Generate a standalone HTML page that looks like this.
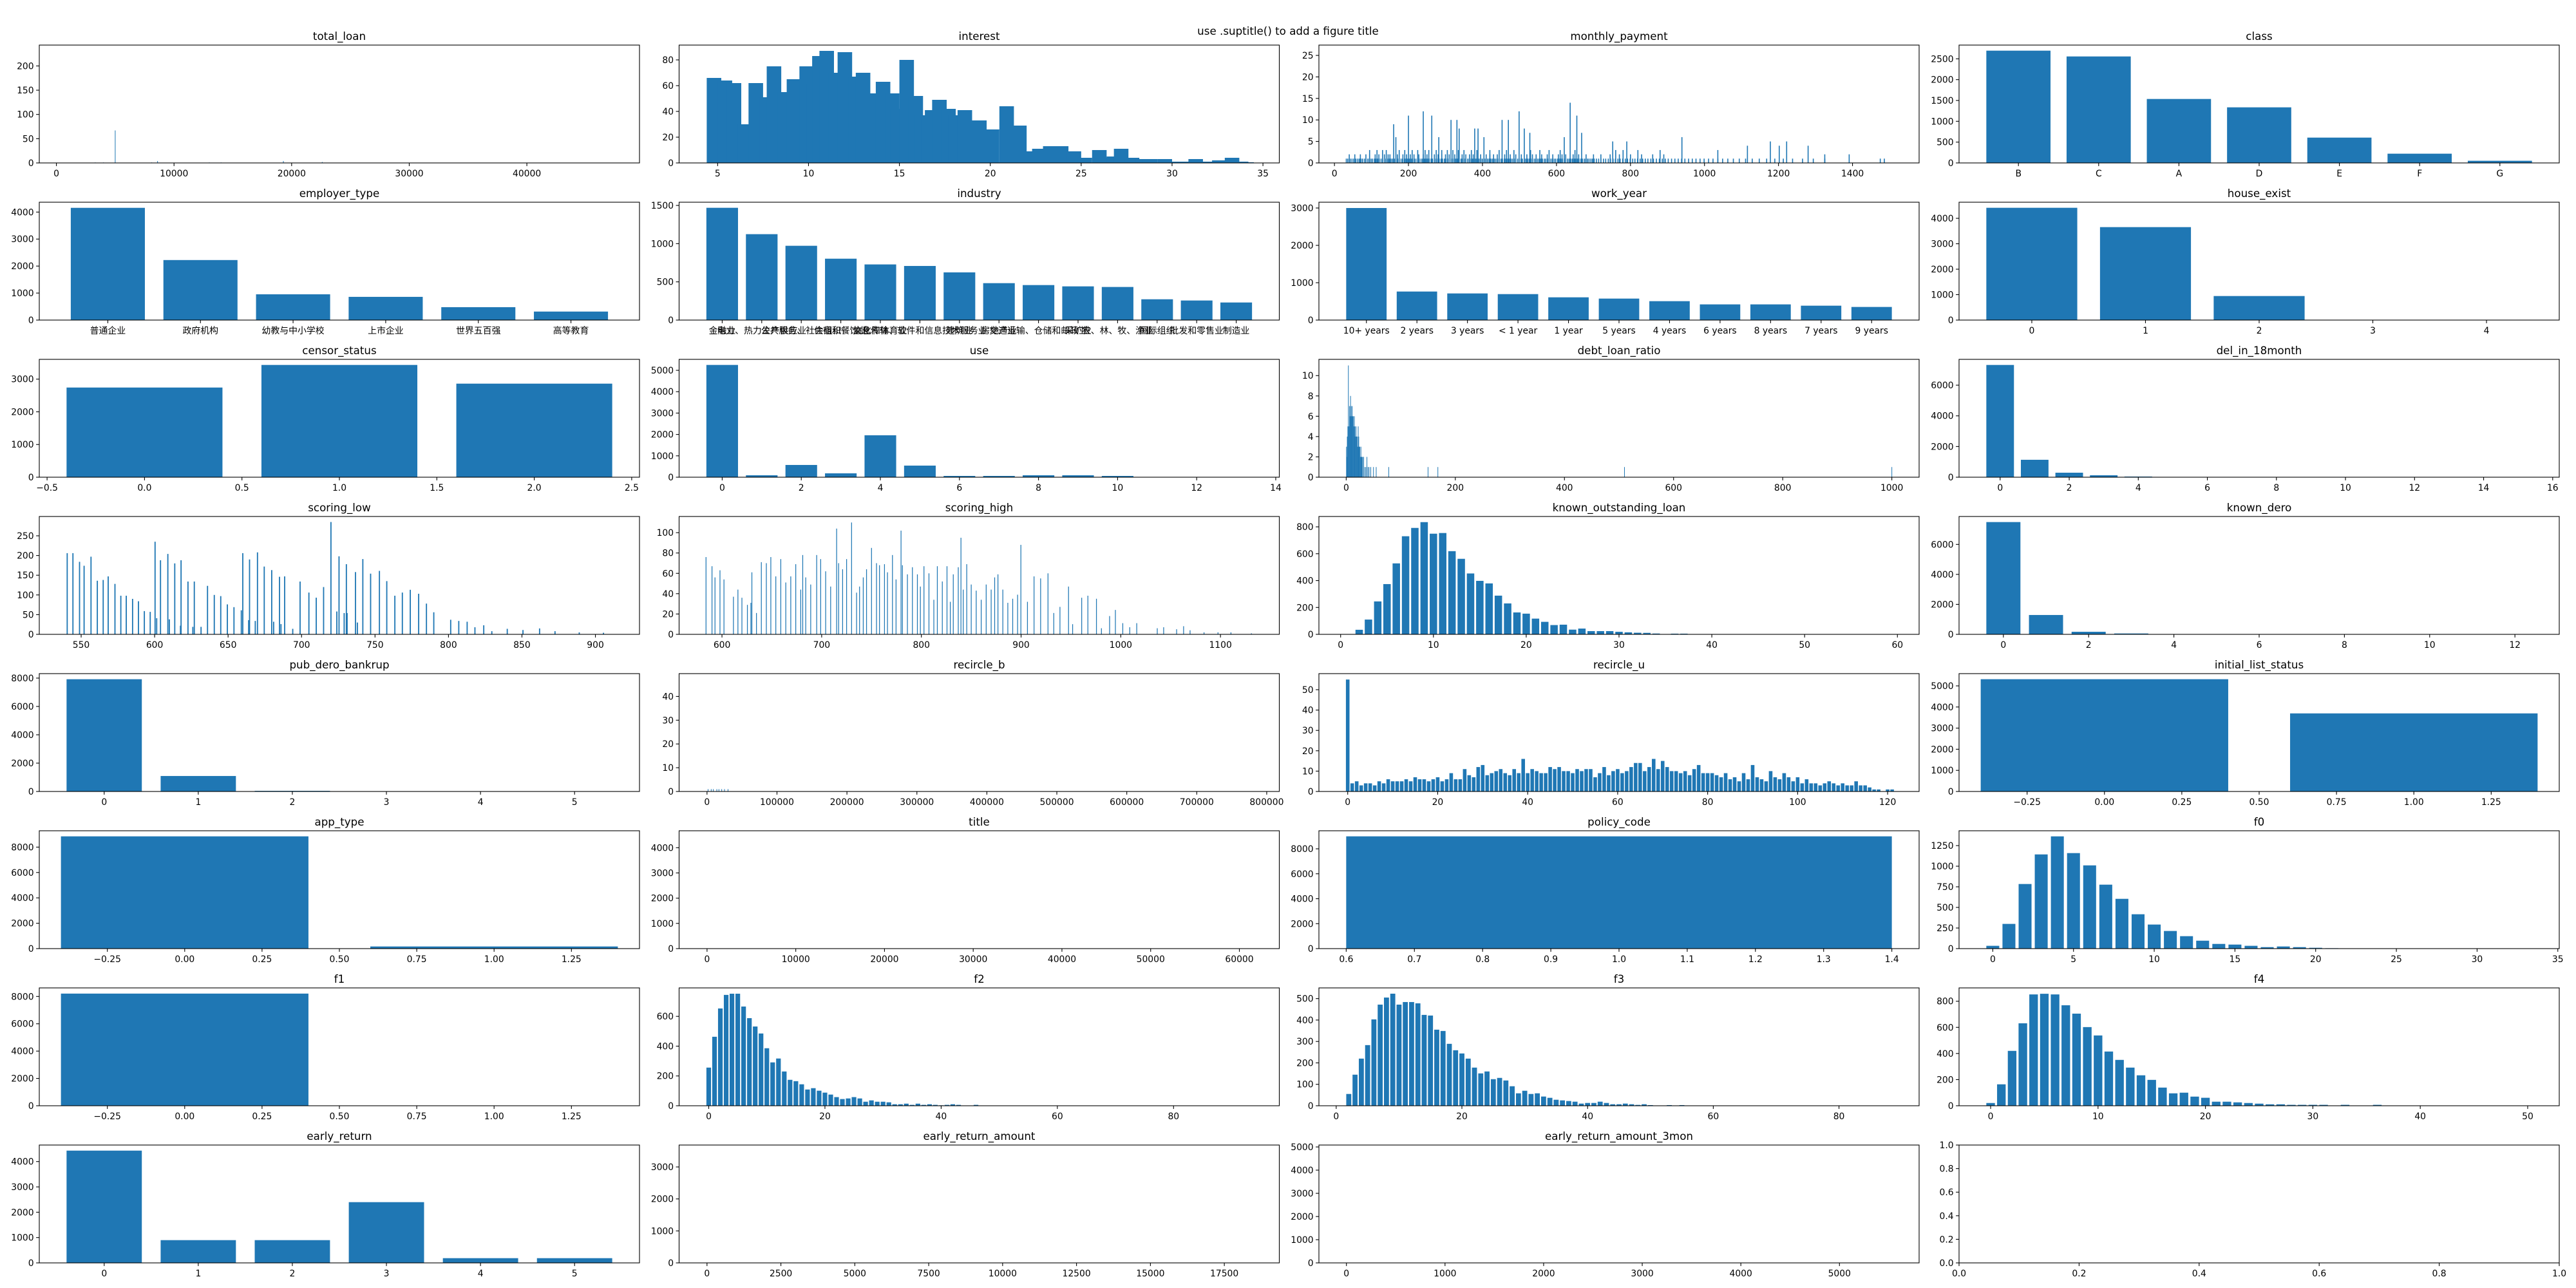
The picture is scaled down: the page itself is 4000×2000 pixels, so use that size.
<!DOCTYPE html>
<html><head><meta charset="utf-8"><title>feature distributions</title>
<style>
html,body{margin:0;padding:0;background:#fff;}
svg{display:block;font-family:"DejaVu Sans","Liberation Sans","Noto Sans CJK SC",sans-serif;}
</style></head>
<body>
<svg id="fig" width="4000" height="2000" viewBox="0 0 4000 2000" xmlns="http://www.w3.org/2000/svg">
<rect x="0" y="0" width="4000" height="2000" fill="#fff"/>
<text x="2000" y="54" text-anchor="middle" font-size="16.7">use .suptitle() to add a figure title</text>
</svg>
<script>
// ---------------- data arrays ----------------
const totalLoanX = [3300, 4000, 5000, 8100, 8600, 13000, 14000, 19300, 22600];
const totalLoanH = [1, 1, 67, 1, 4, 1, 1, 4, 2];

const interestX = [4.8,5.4,5.9,6.5,7.1,7.7,8.1,8.7,9.2,9.9,10.3,10.6,11.0,11.5,12.0,12.6,13.0,13.6,14.1,14.6,14.9,15.4,15.9,16.2,16.6,16.8,17.2,17.7,18.1,18.6,19.4,20.1,20.9,21.3,21.6,22.1,22.7,23.3,23.9,24.6,25.2,26.0,26.5,26.8,27.2,27.8,28.4,28.8,29.6,30.1,30.7,31.3,32.0,32.6,33.3,33.8,34.1];
const interestH = [66,64,62,30,62,51,75,55,65,75,61,83,87,70,86,67,70,54,63,54,42,80,52,37,36,41,49,42,37,41,33,26,44,15,29,9,11,13,13,9,4,10,4,5,11,4,3,3,3,1,1,3,1,2,4,1,0.5];

const monthlyLevels = [1, 2, 3];
const monthlyLevel1X = [32,36,41,45,50,54,58,63,67,72,76,81,85,90,94,99,103,108,112,117,121,126,130,135,139,144,148,153,157,162,166,171,175,180,184,189,193,198,202,207,211,216,220,225,229,234,238,243,247,252,256,261,265,270,274,279,283,288,292,297,301,306,310,315,319,324,328,333,337,342,346,351,355,360,364,369,373,378,382,387,391,396,400,405,409,414,418,423,427,432,436,441,445,450,454,459,463,468,472,477,481,486,490,495,499,504,508,513,517,522,526,531,535,540,544,549,553,558,562,567,571,576,580,585,589,594,598,603,607,612,616,621,625,630,634,639,643,648,652,657,661,666,670,675,679,684,688,693,697,702,708,714,720,727,733,740,746,753,759,766,772,779,786,792,799,806,812,819,826,833,840,847,855,862,870,878,886,894,902,911,920,929,938,947,957,967,977,988,999,1011,1023,1036,1049,1063,1078,1094,1111,1129,1148,1168,1190,1213,1238,1265,1294,1325];
const monthlyLevel2X = [40,55,70,85,95,110,120,135,145,150,170,185,195,205,215,228,240,250,270,280,290,300,310,325,345,355,365,375,395,410,420,430,440,460,475,490,505,520,535,545,560,575,590,605,615,625,645,660,680,700,720,745,770,800,830,860,890];
const monthlyLevel3X = [95,115,130,140,175,190,210,225,245,255,275,290,305,320,335,350,370,385,420,445,465,485,530,555,580,610,650,760,780,820,880];
const monthlySpikeX = [160,166,200,240,263,282,315,331,337,379,388,404,453,470,499,513,528,621,637,655,668,752,790,939,1036,1116,1178,1202,1222,1280,1325,1391,1475,1486];
const monthlySpikeH = [9,6,11,12,11,6,10,10,8,8,8,6,10,10,12,8,7,6,14,11,7,5,5,6,3,4,5,4,5,4,2,2,1,1];

const classCats = ["B","C","A","D","E","F","G"];
const classH = [2696,2557,1536,1335,608,222,52];

const employerCats = ["普通企业","政府机构","幼教与中小学校","上市企业","世界五百强","高等教育"];
const employerH = [4157,2223,954,860,477,315];

const industryCats = ["金融业","电力、热力生产供应业","公共服务、社会组织","住宿和餐饮业","文化和体育业","信息传输、软件和信息技术服务业","建筑业","房地产业","交通运输、仓储和邮政业","采矿业","农、林、牧、渔业","国际组织","批发和零售业","制造业"];
const industryH = [1469,1124,972,803,728,708,624,483,458,441,433,272,256,230];

const workYearCats = ["10+ years","2 years","3 years","< 1 year","1 year","5 years","4 years","6 years","8 years","7 years","9 years"];
const workYearH = [3000,764,713,695,609,575,506,420,420,385,351];

const houseX = [0,1,2,3,4];
const houseH = [4414,3654,945,5,2];

const censorX = [0,1,2];
const censorH = [2743,3434,2862];

const useX = [0,1,2,3,4,5,6,7,8,9,10,11,12,13];
const useH = [5252,90,573,181,1962,543,60,60,90,90,60,5,3,2];

const debtX = [0.5,1,2,3,4,5,6,7,8,9,10,11,12,13,14,15,16,17,18,19,20,21,22,23,24,25,26,27,28,29,30,32,34,36,38,40,42,45,50,55,78,150,168,510,1000];
const debtH = [3,2,4,5,11,5,7,6,8,7,6,7,6,6,5,6,5,4,5,4,4,3,5,4,3,3,2,3,2,2,2,2,1,1,2,1,1,1,1,1,1,1,1,1,1];

const delX = [0,1,2,3,4,5,6,7,8,9,10,11,12,13,14,15];
const delH = [7318,1136,294,126,42,8,4,2,2,1,1,1,1,1,1,1];

const scoringLowX = [540.5,544.4,548.9,552,556.7,561,565,568.4,573,577,580.7,585,589,593,597,600.3,601.4,604,609,610,613.7,617.6,618,622.7,626,627,631.6,636,640.6,645,649.5,654,659,660,664,664.6,668.5,670,674.6,679.7,681,685,686,688.5,694,699,705,710,715,720,724,725.5,729,730.5,731,736.7,738,741.7,747,753,758,763.5,768.6,774,779.7,785,790,801.5,807,812.7,818,824,829.5,840,850.7,862,872.5,889,905.5];
const scoringLowH = [206,206,184,174,197,136,138,147,128,98,98,90,84,59,57,235,41,188,204,38,180,22,188,134,19,134,19,123,100,97,76,69,61,206,36,190,34,208,172,163,32,146,26,147,14,134,106,93,120,285,58,198,54,178,54,158,30,191,154,161,135,98,106,113,103,78,56,37,34,32,18,23,8,14,11,15,8,5,4];

const scoringHighX = [584,590,593,598,602,611.5,616,620,625.5,629,630,634.6,639.5,644.5,649,654,659,664,669,674,679,681,684,689,695,699,704,709,715,717,721,725,730,735,738,741.7,745,750,755,758,763,766,771,774.6,779.6,781,786,791,796,799,802.6,807.6,812.5,816,821,825.7,829,832,837,839.7,842,845.5,850,855,860,865,870,873.5,876.8,881.7,886.7,891.6,896.5,899.8,906.4,913,919.6,927,932.8,939,947.6,951.7,960.8,967,975.6,980.6,988.8,994.6,1002,1009,1016,1036.6,1043,1056,1063,1069.5,1083.5,1097.5,1110.5,1131];
const scoringHighH = [76,67,56,63,54,37,44,36,29,31,61,21,71,70,76,57,74,51,57,69,44,78,56,49,78,74,62,47,104,70,64,74,110,41,47,56,64,85,70,68,69,61,78,54,102,68,59,66,59,47,67,60,34,67,52,67,32,59,66,95,44,69,49,43,34,49,44,56,59,44,31,35,39,88,32,57,55,60,21,27,47,10,36,38,35,6,18,24,11,7,11,6,7,5,8,4,2,2,2,1];

const kolX = [1,2,3,4,5,6,7,8,9,10,11,12,13,14,15,16,17,18,19,20,21,22,23,24,25,26,27,28,29,30,31,32,33,34,35,36,37,38,40,43,59];
const kolH = [2,34,110,245,374,528,730,792,835,749,754,619,562,453,398,379,288,230,163,154,117,93,69,72,35,43,24,24,24,19,15,12,11,6,2,5,5,1,1,1,1];

const knownDeroX = [0,1,2,3,4,5,6,7,8,9,10,11,12];
const knownDeroH = [7490,1291,172,57,12,5,3,2,1,1,1,1,1];

const pubDeroX = [0,1,2,3,4,5];
const pubDeroH = [7921,1093,46,5,2,1];

const recircleBX = [1500,6000,9000,14000,17000,21000,25000,30000];
const recircleBH = [1,1,1,1,1,1,1,1];

const recircleUX = [0,1,2,3,4,5,6,7,8,9,10,11,12,13,14,15,16,17,18,19,20,21,22,23,24,25,26,27,28,29,30,31,32,33,34,35,36,37,38,39,40,41,42,43,44,45,46,47,48,49,50,51,52,53,54,55,56,57,58,59,60,61,62,63,64,65,66,67,68,69,70,71,72,73,74,75,76,77,78,79,80,81,82,83,84,85,86,87,88,89,90,91,92,93,94,95,96,97,98,99,100,101,102,103,104,105,106,107,108,109,110,111,112,113,114,115,116,117,118,119,120,121];
const recircleUH = [55,4,5,3,4,4,3,5,4,6,5,5,5,6,5,7,6,6,5,6,7,5,6,9,6,6,11,8,7,12,13,8,9,10,11,9,8,11,9,16,9,11,10,9,9,12,11,12,10,10,9,11,10,11,11,7,9,12,8,10,11,9,10,12,14,14,10,12,16,11,15,12,10,10,9,10,8,11,13,9,9,9,8,7,9,6,7,5,9,6,13,7,6,5,10,7,6,9,7,5,7,4,6,4,4,3,4,5,4,3,4,3,3,5,3,3,2,1,1,0,1,1];

const initialX = [0,1];
const initialH = [5316,3697];

const appTypeX = [0,1];
const appTypeH = [8849,169];

const titleX = [0,1,2,4,5];
const titleH = [3,2,2,1,1];

const policyX = [1];
const policyH = [9000];

const f0X = [0,1,2,3,4,5,6,7,8,9,10,11,12,13,14,15,16,17,18,19,20,21,22,23,24,25,26,28,33];
const f0H = [34,300,784,1143,1362,1159,1010,776,604,417,292,214,151,96,57,49,34,18,26,18,10,5,3,2,1,1,1,1,1];

const f1X = [0,1];
const f1H = [8210,5];

const f2X = [0,1,2,3,4,5,6,7,8,9,10,11,12,13,14,15,16,17,18,19,20,21,22,23,24,25,26,27,28,29,30,31,32,33,34,35,36,37,38,39,40,41,42,43,44,46,50,93];
const f2H = [256,463,653,744,752,752,666,588,532,485,386,291,317,230,174,165,144,109,118,101,88,75,58,45,49,58,49,27,36,27,27,23,10,10,14,6,14,6,10,6,3,6,10,6,2,6,1,1];

const f3X = [2,3,4,5,6,7,8,9,10,11,12,13,14,15,16,17,18,19,20,21,22,23,24,25,26,27,28,29,30,31,32,33,34,35,36,37,38,39,40,41,42,43,44,45,46,47,48,49,50,52,53,55,88];
const f3H = [55,145,220,283,403,472,505,523,472,484,484,478,424,421,355,349,289,259,244,220,178,151,160,124,130,118,91,58,70,55,58,43,37,28,25,22,19,10,13,13,19,13,7,7,10,7,4,7,3,1,3,3,1];

const f4X = [0,1,2,3,4,5,6,7,8,9,10,11,12,13,14,15,16,17,18,19,20,21,22,23,24,25,26,27,28,29,30,31,33,36,50];
const f4H = [21,164,420,631,852,857,852,769,705,602,538,415,351,292,233,198,139,95,100,70,61,31,31,26,21,16,11,11,7,7,7,7,7,7,1];

const earlyReturnX = [0,1,2,3,4,5];
const earlyReturnH = [4432,898,898,2398,186,186];

const eraX = [0,100,500];
const eraH = [3,2,1];
const era3X = [0,50,200];
const era3H = [3,2,1];

// ---------------- tick label arrays ----------------
const tkTotalLoanX = [0,10000,20000,30000,40000];
const tkTotalLoanY = [0,50,100,150,200];
const tkInterestX = [5,10,15,20,25,30,35];
const tkInterestY = [0,20,40,60,80];
const tkMonthlyX = [0,200,400,600,800,1000,1200,1400];
const tkMonthlyY = [0,5,10,15,20,25];
const tkClassY = [0,500,1000,1500,2000,2500];
const tkEmployerY = [0,1000,2000,3000,4000];
const tkIndustryY = [0,500,1000,1500];
const tkWorkY = [0,1000,2000,3000];
const tkHouseX = [0,1,2,3,4];
const tkHouseY = [0,1000,2000,3000,4000];
const tkCensorX = [-0.5,0,0.5,1,1.5,2,2.5];
const tkCensorXL = ["\u22120.5","0.0","0.5","1.0","1.5","2.0","2.5"];
const tkCensorY = [0,1000,2000,3000];
const tkUseX = [0,2,4,6,8,10,12,14];
const tkUseY = [0,1000,2000,3000,4000,5000];
const tkDebtX = [0,200,400,600,800,1000];
const tkDebtY = [0,2,4,6,8,10];
const tkDelX = [0,2,4,6,8,10,12,14,16];
const tkDelY = [0,2000,4000,6000];
const tkLowX = [550,600,650,700,750,800,850,900];
const tkLowY = [0,50,100,150,200,250];
const tkHighX = [600,700,800,900,1000,1100];
const tkHighY = [0,20,40,60,80,100];
const tkKolX = [0,10,20,30,40,50,60];
const tkKolY = [0,200,400,600,800];
const tkDeroX = [0,2,4,6,8,10,12];
const tkDeroY = [0,2000,4000,6000];
const tkPubX = [0,1,2,3,4,5];
const tkPubY = [0,2000,4000,6000,8000];
const tkRecBX = [0,100000,200000,300000,400000,500000,600000,700000,800000];
const tkRecBY = [0,10,20,30,40];
const tkRecUX = [0,20,40,60,80,100,120];
const tkRecUY = [0,10,20,30,40,50];
const tkQuarterX = [-0.25,0,0.25,0.5,0.75,1,1.25];
const tkQuarterXL = ["\u22120.25","0.00","0.25","0.50","0.75","1.00","1.25"];
const tkInitY = [0,1000,2000,3000,4000,5000];
const tkAppY = [0,2000,4000,6000,8000];
const tkTitleX = [0,10000,20000,30000,40000,50000,60000];
const tkTitleY = [0,1000,2000,3000,4000];
const tkPolicyX = [0.6,0.7,0.8,0.9,1.0,1.1,1.2,1.3,1.4];
const tkPolicyXL = ["0.6","0.7","0.8","0.9","1.0","1.1","1.2","1.3","1.4"];
const tkPolicyY = [0,2000,4000,6000,8000];
const tkF0X = [0,5,10,15,20,25,30,35];
const tkF0Y = [0,250,500,750,1000,1250];
const tkF1Y = [0,2000,4000,6000,8000];
const tkF2X = [0,20,40,60,80];
const tkF2Y = [0,200,400,600];
const tkF3X = [0,20,40,60,80];
const tkF3Y = [0,100,200,300,400,500];
const tkF4X = [0,10,20,30,40,50];
const tkF4Y = [0,200,400,600,800];
const tkEarlyX = [0,1,2,3,4,5];
const tkEarlyY = [0,1000,2000,3000,4000];
const tkEraX = [0,2500,5000,7500,10000,12500,15000,17500];
const tkEraY = [0,1000,2000,3000];
const tkEra3X = [0,1000,2000,3000,4000,5000];
const tkEra3Y = [0,1000,2000,3000,4000,5000];
const tkUnit = [0,0.2,0.4,0.6,0.8,1.0];
const tkUnitL = ["0.0","0.2","0.4","0.6","0.8","1.0"];

// ---------------- chart specs ----------------
function idx(a){return a.map((_,i)=>i);}
const charts = [
 {t:"total_loan", xl:[-1456,49577], yl:[0,243], bx:totalLoanX, bh:totalLoanH, bw:0.8, minW:1, xt:tkTotalLoanX, yt:tkTotalLoanY},
 {t:"interest", xl:[2.88,35.9], yl:[0,91.5], bx:interestX, bh:interestH, bw:0.8, xt:tkInterestX, yt:tkInterestY},
 {t:"monthly_payment", xl:[-42,1580], yl:[0,27.4], groups:[[monthlyLevel1X,monthlyLevels[0]],[monthlyLevel2X,monthlyLevels[1]],[monthlyLevel3X,monthlyLevels[2]]], bx:monthlySpikeX, bh:monthlySpikeH, bw:0.8, minW:1.6, xt:tkMonthlyX, yt:tkMonthlyY},
 {t:"class", xl:[-0.74,6.74], yl:[0,2830], cats:classCats, bh:classH, bw:0.8, yt:tkClassY},
 {t:"employer_type", xl:[-0.74,5.74], yl:[0,4365], cats:employerCats, bh:employerH, bw:0.8, yt:tkEmployerY},
 {t:"industry", xl:[-1.09,14.09], yl:[0,1542], cats:industryCats, bh:industryH, bw:0.8, yt:tkIndustryY},
 {t:"work_year", xl:[-0.94,10.94], yl:[0,3155], cats:workYearCats, bh:workYearH, bw:0.8, yt:tkWorkY},
 {t:"house_exist", xl:[-0.64,4.64], yl:[0,4633], bx:houseX, bh:houseH, bw:0.8, xt:tkHouseX, yt:tkHouseY},
 {t:"censor_status", xl:[-0.54,2.54], yl:[0,3605], bx:censorX, bh:censorH, bw:0.8, xt:tkCensorX, xtl:tkCensorXL, yt:tkCensorY},
 {t:"use", xl:[-1.09,14.09], yl:[0,5513], bx:useX, bh:useH, bw:0.8, xt:tkUseX, yt:tkUseY},
 {t:"debt_loan_ratio", xl:[-50,1050], yl:[0,11.6], bx:debtX, bh:debtH, bw:0.8, minW:1, xt:tkDebtX, yt:tkDebtY},
 {t:"del_in_18month", xl:[-1.19,16.19], yl:[0,7683], bx:delX, bh:delH, bw:0.8, xt:tkDelX, yt:tkDelY},
 {t:"scoring_low", xl:[521.5,930], yl:[0,299], bx:scoringLowX, bh:scoringLowH, bw:0.8, minW:1, xt:tkLowX, yt:tkLowY},
 {t:"scoring_high", xl:[557,1159], yl:[0,115.9], bx:scoringHighX, bh:scoringHighH, bw:0.8, minW:1, xt:tkHighX, yt:tkHighY},
 {t:"known_outstanding_loan", xl:[-2.34,62.34], yl:[0,877], bx:kolX, bh:kolH, bw:0.8, xt:tkKolX, yt:tkKolY},
 {t:"known_dero", xl:[-1.04,13.04], yl:[0,7862], bx:knownDeroX, bh:knownDeroH, bw:0.8, xt:tkDeroX, yt:tkDeroY},
 {t:"pub_dero_bankrup", xl:[-0.69,5.69], yl:[0,8316], bx:pubDeroX, bh:pubDeroH, bw:0.8, xt:tkPubX, yt:tkPubY},
 {t:"recircle_b", xl:[-39900,818000], yl:[0,49.6], bx:recircleBX, bh:recircleBH, bw:0.8, minW:1, xt:tkRecBX, yt:tkRecBY},
 {t:"recircle_u", xl:[-6.4,127], yl:[0,57.9], bx:recircleUX, bh:recircleUH, bw:0.8, xt:tkRecUX, yt:tkRecUY},
 {t:"initial_list_status", xl:[-0.47,1.47], yl:[0,5580], bx:initialX, bh:initialH, bw:0.8, xt:tkQuarterX, xtl:tkQuarterXL, yt:tkInitY},
 {t:"app_type", xl:[-0.47,1.47], yl:[0,9289], bx:appTypeX, bh:appTypeH, bw:0.8, xt:tkQuarterX, xtl:tkQuarterXL, yt:tkAppY},
 {t:"title", xl:[-3150,64500], yl:[0,4672], bx:titleX, bh:titleH, bw:0.8, xt:tkTitleX, yt:tkTitleY},
 {t:"policy_code", xl:[0.56,1.44], yl:[0,9447], bx:policyX, bh:policyH, bw:0.8, xt:tkPolicyX, xtl:tkPolicyXL, yt:tkPolicyY},
 {t:"f0", xl:[-2.09,35.09], yl:[0,1430], bx:f0X, bh:f0H, bw:0.8, xt:tkF0X, yt:tkF0Y},
 {t:"f1", xl:[-0.47,1.47], yl:[0,8627], bx:f1X, bh:f1H, bw:0.8, xt:tkQuarterX, xtl:tkQuarterXL, yt:tkF1Y},
 {t:"f2", xl:[-5.1,98.2], yl:[0,791], bx:f2X, bh:f2H, bw:0.8, xt:tkF2X, yt:tkF2Y},
 {t:"f3", xl:[-2.75,92.75], yl:[0,550], bx:f3X, bh:f3H, bw:0.8, xt:tkF3X, yt:tkF3Y},
 {t:"f4", xl:[-2.94,52.94], yl:[0,902], bx:f4X, bh:f4H, bw:0.8, xt:tkF4X, yt:tkF4Y},
 {t:"early_return", xl:[-0.69,5.69], yl:[0,4653], bx:earlyReturnX, bh:earlyReturnH, bw:0.8, xt:tkEarlyX, yt:tkEarlyY},
 {t:"early_return_amount", xl:[-944,19360], yl:[0,3685], bx:eraX, bh:eraH, bw:0.8, xt:tkEraX, yt:tkEraY},
 {t:"early_return_amount_3mon", xl:[-279,5808], yl:[0,5083], bx:era3X, bh:era3H, bw:0.8, xt:tkEra3X, yt:tkEra3Y},
 {t:"", xl:[0,1], yl:[0,1], bx:[], bh:[], bw:0.8, xt:tkUnit, xtl:tkUnitL, yt:tkUnit, ytl:tkUnitL}
];

// ---------------- rendering ----------------
const NS = "http://www.w3.org/2000/svg";
const svg = document.getElementById("fig");
function mk(tag, attrs, parent){
  const e = document.createElementNS(NS, tag);
  for (const k in attrs) e.setAttribute(k, attrs[k]);
  parent.appendChild(e);
  return e;
}
const colLeft = [61, 1054.5, 2048, 3042];
const AW = 932, AH = 183, TOP0 = 70, PITCH = 244;
const BLUE = "#1f77b4";
const fmt = v => (v < 0 ? "\u2212" + Math.abs(v) : String(v));

charts.forEach((c, i) => {
  const r = Math.floor(i / 4), col = i % 4;
  const L = colLeft[col], T = TOP0 + PITCH * r, B = T + AH, R = L + AW;
  const sx = v => L + (v - c.xl[0]) / (c.xl[1] - c.xl[0]) * AW;
  const sy = v => B - (v - c.yl[0]) / (c.yl[1] - c.yl[0]) * AH;
  const slug = c.t ? c.t.replace(/_/g, "-") : "empty";

  const g = mk("g", {}, svg);
  
  

  const cp = mk("clipPath", {id: "clip" + i}, g);
  mk("rect", {x: L, y: T, width: AW, height: AH}, cp);

  const bars = mk("g", {"clip-path": "url(#clip" + i + ")"}, g);
  
  

  const drawBar = (x, h) => {
    let x0 = sx(x - c.bw / 2), x1 = sx(x + c.bw / 2);
    let w = x1 - x0;
    if (c.minW && w < c.minW) { x0 = (x0 + x1) / 2 - c.minW / 2; w = c.minW; }
    const y = sy(h);
    const rc = mk("rect", {x: x0.toFixed(2), y: y.toFixed(2), width: w.toFixed(2), height: Math.max(0, B - y).toFixed(2), fill: BLUE}, bars);
    
    
  };
  if (c.groups) c.groups.forEach(gp => gp[0].forEach(x => drawBar(x, gp[1])));
  if (c.cats) c.cats.forEach((_, k) => drawBar(k, c.bh[k]));
  else c.bx.forEach((x, k) => drawBar(x, c.bh[k]));

  const fr = mk("rect", {x: L, y: T, width: AW, height: AH, fill: "none", stroke: "#000", "stroke-width": 1.1}, g);
  
  

  const xt = c.cats ? idx(c.cats) : c.xt;
  const xtl = c.cats ? c.cats : (c.xtl || c.xt.map(fmt));
  const xg = mk("g", {}, g);
  
  
  xt.forEach((v, k) => {
    const px = sx(v);
    if (px < L - 1 || px > R + 1) return;
    const tl = mk("line", {x1: px, y1: B, x2: px, y2: B + 4.9, stroke: "#000", "stroke-width": 1.1}, xg);
    
    
    const tx = mk("text", {x: px, y: B + 21, "text-anchor": "middle", "font-size": 13.9}, xg);
    tx.textContent = xtl[k];
    
    
  });

  const ytl = c.ytl || c.yt.map(fmt);
  const yg = mk("g", {}, g);
  
  
  c.yt.forEach((v, k) => {
    const py = sy(v);
    const tl = mk("line", {x1: L - 4.9, y1: py, x2: L, y2: py, stroke: "#000", "stroke-width": 1.1}, yg);
    
    
    const tx = mk("text", {x: L - 8.4, y: py + 5, "text-anchor": "end", "font-size": 13.9}, yg);
    tx.textContent = ytl[k];
    
    
  });

  if (c.t) {
    const tt = mk("text", {x: L + AW / 2, y: T - 8, "text-anchor": "middle", "font-size": 16.7}, g);
    tt.textContent = c.t;
    
    
  }
});
</script>
</body></html>
